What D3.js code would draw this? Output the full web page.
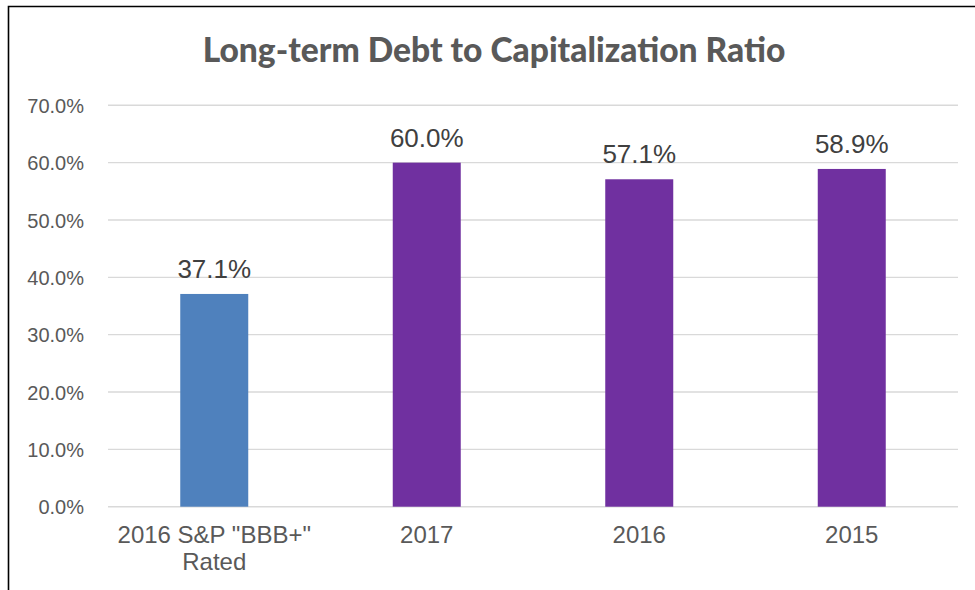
<!DOCTYPE html>
<html>
<head>
<meta charset="utf-8">
<script src="https://cdn.jsdelivr.net/npm/d3@7"></script>
<style>
  html, body { margin: 0; padding: 0; background: #fff; }
  svg { display: block; }
</style>
</head>
<body>
<svg id="chart" width="975" height="590"></svg>
<script>
// Chart data
const categories = ['2016 S&P "BBB+" Rated', "2017", "2016", "2015"];
const categoryLines = [['2016 S&P "BBB+"', "Rated"], ["2017"], ["2016"], ["2015"]];
const values = [0.371, 0.600, 0.571, 0.589];
const barColors = ["#4F81BD", "#7030A0", "#7030A0", "#7030A0"];
const yTicks = [0, 0.1, 0.2, 0.3, 0.4, 0.5, 0.6, 0.7];
const titleText = "Long-term Debt to Capitalization Ratio";

const svg = d3.select("#chart");
const W = 975, H = 590;
const textColor = "#595959";

// Outer frame of the chart area (right and bottom edges sit beyond the view)
svg.append("path")
  .attr("d", `M8.5,${H + 2} L8.5,6.5 L${W + 2},6.5`)
  .attr("fill", "none")
  .attr("stroke", "#000")
  .attr("stroke-width", 1.6);

const plot = { left: 108, right: 958, top: 105.3, bottom: 506.7 };

const x = d3.scaleBand()
  .domain(categories)
  .range([plot.left, plot.right])
  .paddingInner(0.68)
  .paddingOuter(0.34);

const y = d3.scaleLinear()
  .domain([0, 0.7])
  .range([plot.bottom, plot.top]);

// Gridlines
svg.append("g")
  .selectAll("line")
  .data(yTicks)
  .join("line")
  .attr("x1", plot.left)
  .attr("x2", plot.right)
  .attr("y1", d => y(d))
  .attr("y2", d => y(d))
  .attr("stroke", "#D9D9D9")
  .attr("stroke-width", 1.4);

// Y axis labels
const yAxis = d3.axisLeft(y)
  .tickValues(yTicks)
  .tickFormat(d3.format(".1%"))
  .tickSize(0)
  .tickPadding(24);

const yg = svg.append("g")
  .attr("transform", `translate(${plot.left},0)`)
  .call(yAxis);
yg.select(".domain").remove();
yg.selectAll("text")
  .attr("fill", textColor)
  .attr("font-family", "'Liberation Sans', Arial, sans-serif")
  .attr("font-size", 20)
  .attr("dy", "0.36em");

// Bars
svg.append("g")
  .selectAll("rect")
  .data(values)
  .join("rect")
  .attr("x", (d, i) => x(categories[i]))
  .attr("width", x.bandwidth())
  .attr("y", d => y(d))
  .attr("height", d => y(0) - y(d))
  .attr("fill", (d, i) => barColors[i]);

// Value labels above bars
svg.append("g")
  .selectAll("text")
  .data(values)
  .join("text")
  .attr("x", (d, i) => x(categories[i]) + x.bandwidth() / 2)
  .attr("y", d => y(d) - 16)
  .attr("text-anchor", "middle")
  .attr("fill", "#404040")
  .attr("font-family", "'Liberation Sans', Arial, sans-serif")
  .attr("font-size", 26)
  .text(d => d3.format(".1%")(d));

// Category labels (x axis)
const xg = svg.append("g");
categoryLines.forEach((lines, i) => {
  const t = xg.append("text")
    .attr("x", x(categories[i]) + x.bandwidth() / 2)
    .attr("y", plot.bottom + 36.5)
    .attr("text-anchor", "middle")
    .attr("fill", textColor)
    .attr("font-family", "'Liberation Sans', Arial, sans-serif")
    .attr("font-size", 24);
  lines.forEach((ln, j) => {
    t.append("tspan")
      .attr("x", x(categories[i]) + x.bandwidth() / 2)
      .attr("dy", j === 0 ? 0 : 27)
      .text(ln);
  });
});

// Title
const title = svg.append("text")
  .attr("x", 494)
  .attr("y", 61.5)
  .attr("text-anchor", "middle")
  .attr("fill", textColor)
  .attr("font-family", "Lato, 'Open Sans', sans-serif")
  .attr("font-weight", 900)
  .attr("font-size", 32)
  .text(titleText);
const tw = title.node().getComputedTextLength();
title.attr("font-size", 32 * 583 / tw);
</script>
</body>
</html>
